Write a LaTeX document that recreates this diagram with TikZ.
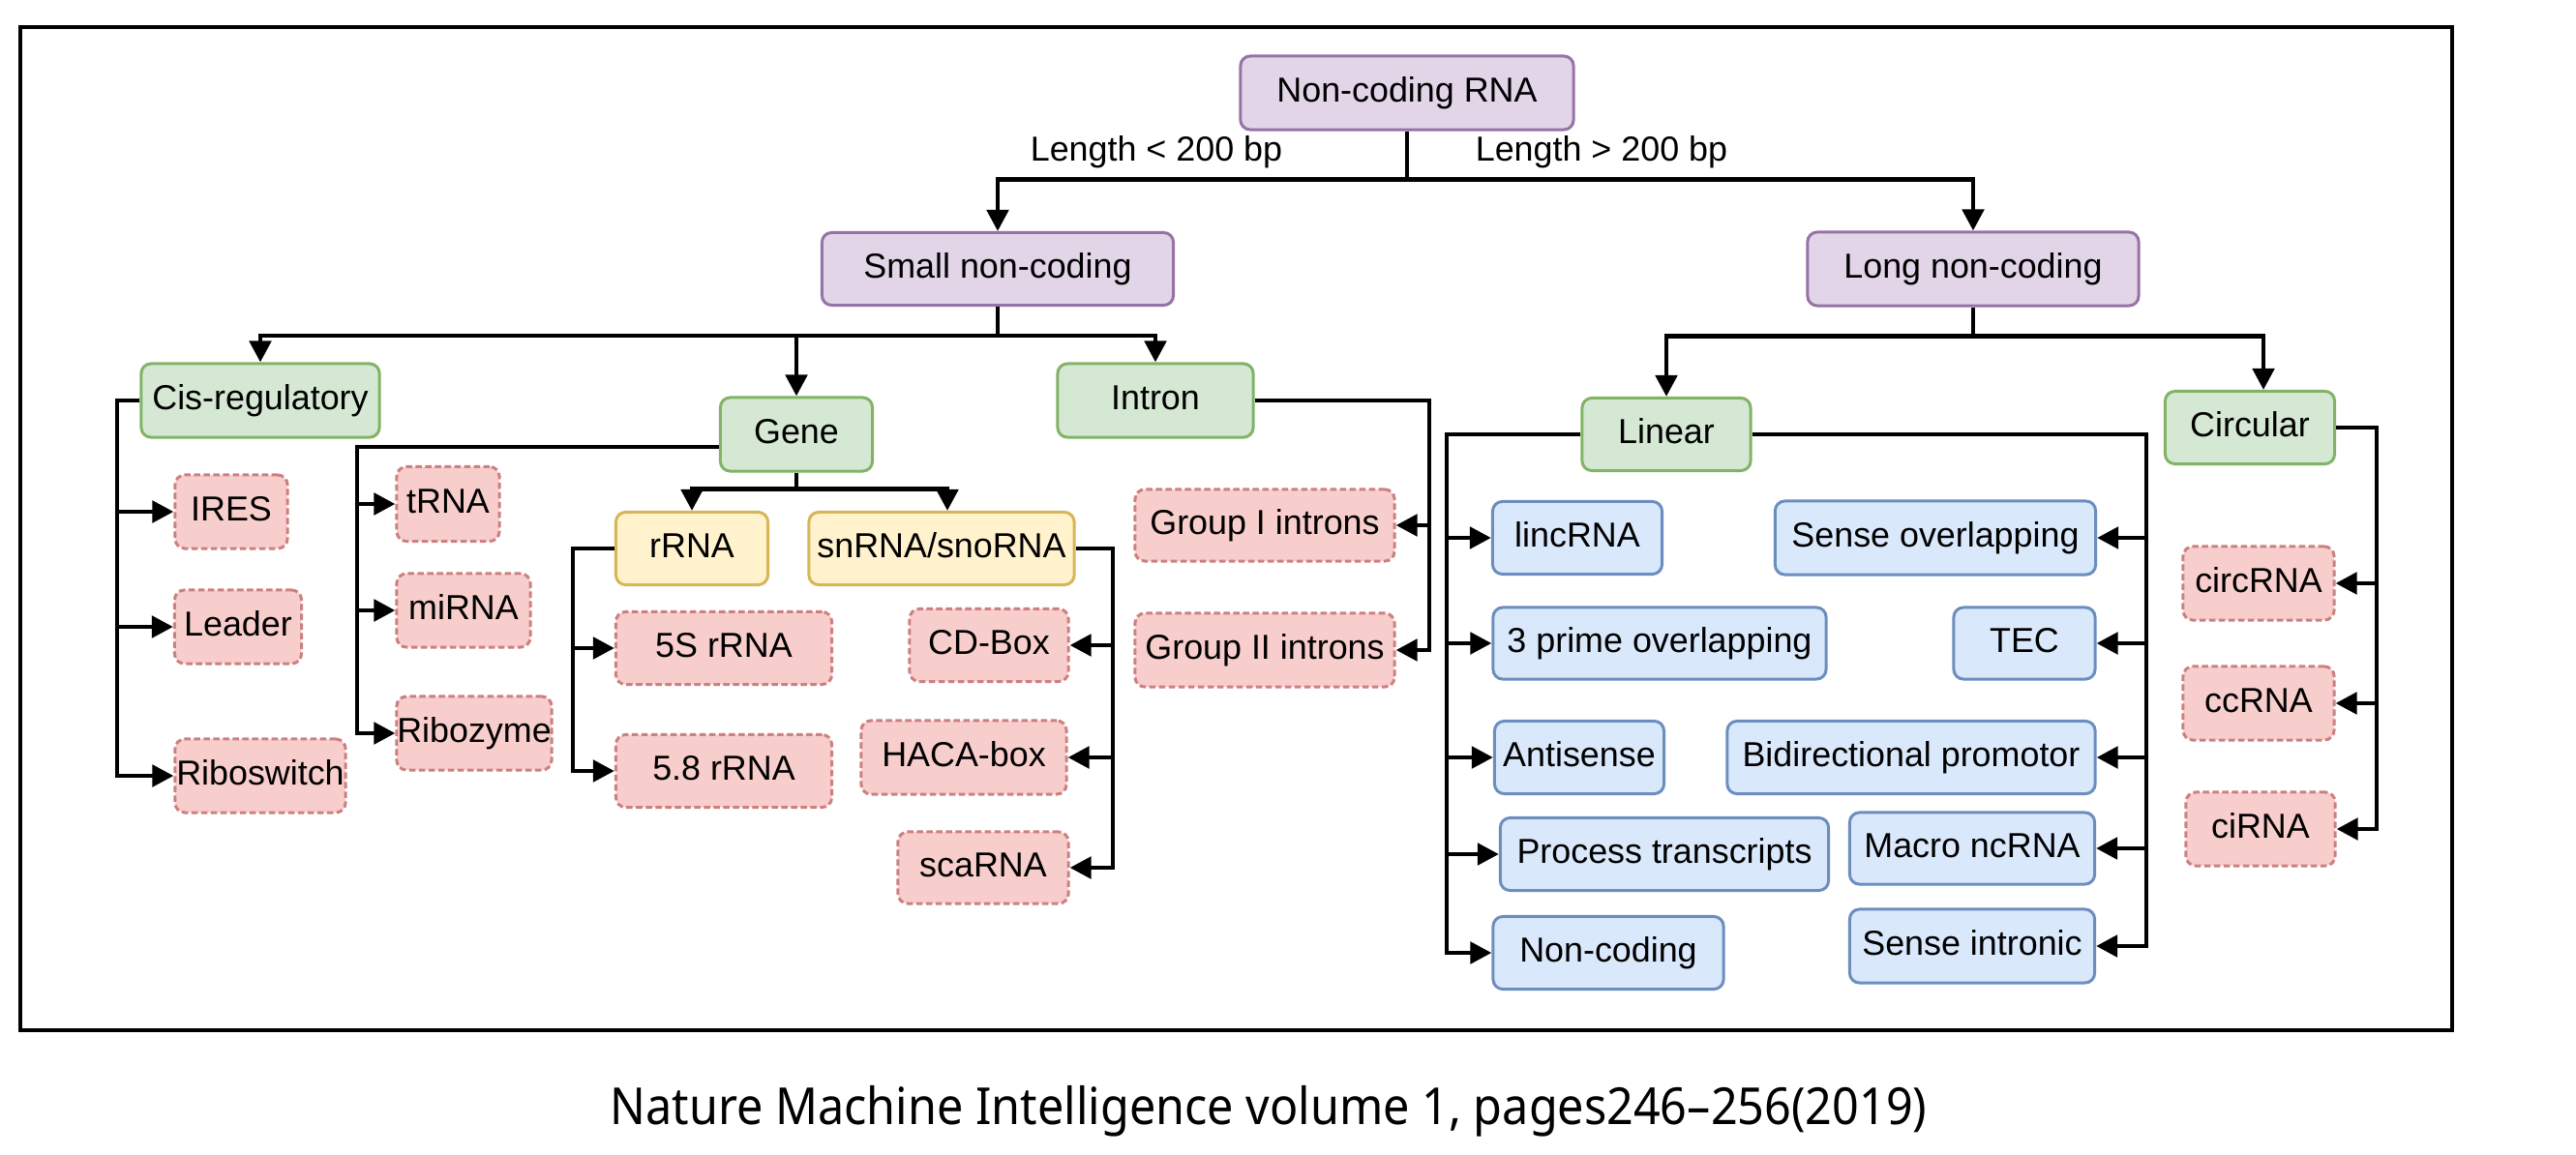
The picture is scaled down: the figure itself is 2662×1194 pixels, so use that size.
\documentclass[tikz,border=0pt]{standalone}
\usepackage{fontspec}
\setmainfont{Liberation Sans}
\newfontfamily\capfont{Noto Sans}
\usetikzlibrary{arrows.meta,calc}
\definecolor{purF}{HTML}{E1D5E7}\definecolor{purD}{HTML}{9673A6}
\definecolor{grnF}{HTML}{D5E8D4}\definecolor{grnD}{HTML}{82B366}
\definecolor{yelF}{HTML}{FFF2CC}\definecolor{yelD}{HTML}{D6B656}
\definecolor{redF}{HTML}{F8CECC}\definecolor{redD}{HTML}{CC8080}
\definecolor{bluF}{HTML}{DAE8FC}\definecolor{bluD}{HTML}{6C8EBF}
\tikzset{
  box/.style={rounded corners=0.1cm, line width=0.85pt, inner xsep=0pt, inner ysep=0pt,
    font=\fontsize{10.2}{12}\selectfont, text height=0.73em, text depth=0.2em, align=center},
  pur/.style={box, fill=purF, draw=purD},
  grn/.style={box, fill=grnF, draw=grnD},
  yel/.style={box, fill=yelF, draw=yelD},
  red/.style={box, fill=redF, draw=redD, dash pattern=on 0.065cm off 0.035cm},
  blu/.style={box, fill=bluF, draw=bluD},
  conn/.style={line width=1.4pt, line join=miter},
  arr/.style={conn, -{Triangle[length=0.22cm,width=0.22cm]}},
  lbl/.style={font=\fontsize{10.2}{12}\selectfont, inner sep=0pt},
}
\begin{document}
\begin{tikzpicture}[x=0.01cm,y=-0.01cm]
\useasboundingbox (0,0) rectangle (2662,1194);
\fill[white] (0,0) rectangle (2662,1194);
\draw[line width=0.9pt] (21,28) rectangle (2534,1065);

% level 0-1
\node[pur, minimum width=3.44cm, minimum height=0.76cm] (ncrna) at (1454,96) {Non-coding RNA};
\node[pur, minimum width=3.63cm, minimum height=0.75cm] (small) at (1031,278) {Small non-coding};
\node[pur, minimum width=3.42cm, minimum height=0.76cm] (long) at (2039,278) {Long non-coding};
% level 2
\node[grn, minimum width=2.46cm, minimum height=0.76cm] (cis) at (269,414) {Cis-regulatory};
\node[grn, minimum width=1.57cm, minimum height=0.76cm] (gene) at (823,449) {Gene};
\node[grn, minimum width=2.02cm, minimum height=0.76cm] (intron) at (1194,414) {Intron};
\node[grn, minimum width=1.74cm, minimum height=0.75cm] (linear) at (1722,449) {Linear};
\node[grn, minimum width=1.75cm, minimum height=0.75cm] (circular) at (2325,442) {Circular};
% cis children
\node[red, minimum width=1.16cm, minimum height=0.76cm] (ires) at (239,529) {IRES};
\node[red, minimum width=1.31cm, minimum height=0.76cm] (leader) at (246,648) {Leader};
\node[red, minimum width=1.76cm, minimum height=0.76cm] (riboswitch) at (269,802) {Riboswitch};
% gene children
\node[red, minimum width=1.06cm, minimum height=0.77cm] (trna) at (463,521) {tRNA};
\node[red, minimum width=1.38cm, minimum height=0.76cm] (mirna) at (479,631) {miRNA};
\node[red, minimum width=1.60cm, minimum height=0.76cm] (ribozyme) at (490,758) {Ribozyme};
\node[yel, minimum width=1.57cm, minimum height=0.75cm] (rrna) at (715,567) {rRNA};
\node[yel, minimum width=2.74cm, minimum height=0.75cm] (snrna) at (973,567) {snRNA/snoRNA};
\node[red, minimum width=2.23cm, minimum height=0.75cm] (s5) at (748,670) {5S rRNA};
\node[red, minimum width=2.23cm, minimum height=0.75cm] (s58) at (748,797) {5.8 rRNA};
\node[red, minimum width=1.64cm, minimum height=0.75cm] (cdbox) at (1022,667) {CD-Box};
\node[red, minimum width=2.12cm, minimum height=0.76cm] (haca) at (996,783) {HACA-box};
\node[red, minimum width=1.76cm, minimum height=0.74cm] (scarna) at (1016,897) {scaRNA};
% intron children
\node[red, minimum width=2.68cm, minimum height=0.74cm] (g1) at (1307,543) {Group I introns};
\node[red, minimum width=2.68cm, minimum height=0.76cm] (g2) at (1307,672) {Group II introns};
% linear children
\node[blu, minimum width=1.75cm, minimum height=0.75cm] (lincrna) at (1630,556) {lincRNA};
\node[blu, minimum width=3.44cm, minimum height=0.74cm] (three) at (1715,665) {3 prime overlapping};
\node[blu, minimum width=1.75cm, minimum height=0.75cm] (antisense) at (1632,783) {Antisense};
\node[blu, minimum width=3.39cm, minimum height=0.75cm] (process) at (1720,883) {Process transcripts};
\node[blu, minimum width=2.38cm, minimum height=0.75cm] (noncoding) at (1662,985) {Non-coding};
\node[blu, minimum width=3.31cm, minimum height=0.76cm] (senseov) at (2000,556) {Sense overlapping};
\node[blu, minimum width=1.46cm, minimum height=0.74cm] (tec) at (2092,665) {TEC};
\node[blu, minimum width=3.80cm, minimum height=0.75cm] (bidir) at (1975,783) {Bidirectional promotor};
\node[blu, minimum width=2.53cm, minimum height=0.74cm] (macro) at (2038,877) {Macro ncRNA};
\node[blu, minimum width=2.53cm, minimum height=0.76cm] (senseint) at (2038,978) {Sense intronic};
% circular children
\node[red, minimum width=1.56cm, minimum height=0.76cm] (circrna) at (2334,603) {circRNA};
\node[red, minimum width=1.56cm, minimum height=0.76cm] (ccrna) at (2334,727) {ccRNA};
\node[red, minimum width=1.54cm, minimum height=0.76cm] (cirna) at (2336,857) {ciRNA};

% labels
\node[lbl] (lshort) at (1195,157) {Length < 200 bp};
\node[lbl] (llong) at (1655,157) {Length > 200 bp};

% junction coordinates
\path (ncrna.south) ++(0,50) coordinate (j1);
\path (small.south) ++(0,30) coordinate (j2);
\path (long.south) ++(0,30) coordinate (j3);
\path (gene.south) ++(0,17) coordinate (j4);
\coordinate (cisx) at (121,0);
\coordinate (genex) at (369,0);
\coordinate (rrx) at (592,0);
\coordinate (snx) at (1150,0);
\coordinate (inx) at (1477,0);
\coordinate (lnx) at (1495,0);
\coordinate (lrx) at (2218,0);
\coordinate (crx) at (2456,0);

% top level
\draw[conn] (ncrna.south) -- (j1);
\draw[arr] (j1) -| (small.north);
\draw[arr] (j1) -| (long.north);
\draw[conn] (small.south) -- (j2);
\draw[arr] (j2) -| (cis.north);
\draw[arr] (j2) -| (gene.north);
\draw[arr] (j2) -| (intron.north);
\draw[conn] (long.south) -- (j3);
\draw[arr] (j3) -| (linear.north);
\draw[arr] (j3) -| ([xshift=0.14cm]circular.north);

% cis
\draw[arr] (cis.west) -| (cisx |- riboswitch.west) -- (riboswitch.west);
\draw[arr] (cisx |- ires.west) -- (ires.west);
\draw[arr] (cisx |- leader.west) -- (leader.west);
% gene left
\draw[arr] ([yshift=-0.13cm]gene.west) -| (genex |- ribozyme.west) -- (ribozyme.west);
\draw[arr] (genex |- trna.west) -- (trna.west);
\draw[arr] (genex |- mirna.west) -- (mirna.west);
% gene down
\draw[conn] (gene.south) -- (j4);
\draw[arr] (j4) -| (rrna.north);
\draw[arr] (j4) -| ([xshift=0.06cm]snrna.north);
% rRNA
\draw[arr] (rrna.west) -| (rrx |- s58.west) -- (s58.west);
\draw[arr] (rrx |- s5.west) -- (s5.west);
% snRNA
\draw[arr] (snrna.east) -| (snx |- scarna.east) -- (scarna.east);
\draw[arr] (snx |- cdbox.east) -- (cdbox.east);
\draw[arr] (snx |- haca.east) -- (haca.east);
% intron
\draw[arr] (intron.east) -| (inx |- g2.east) -- (g2.east);
\draw[arr] (inx |- g1.east) -- (g1.east);
% linear left
\draw[arr] (linear.west) -| (lnx |- noncoding.west) -- (noncoding.west);
\draw[arr] (lnx |- lincrna.west) -- (lincrna.west);
\draw[arr] (lnx |- three.west) -- (three.west);
\draw[arr] (lnx |- antisense.west) -- (antisense.west);
\draw[arr] (lnx |- process.west) -- (process.west);
% linear right
\draw[arr] (linear.east) -| (lrx |- senseint.east) -- (senseint.east);
\draw[arr] (lrx |- senseov.east) -- (senseov.east);
\draw[arr] (lrx |- tec.east) -- (tec.east);
\draw[arr] (lrx |- bidir.east) -- (bidir.east);
\draw[arr] (lrx |- macro.east) -- (macro.east);
% circular
\draw[arr] (circular.east) -| (crx |- cirna.east) -- (cirna.east);
\draw[arr] (crx |- circrna.east) -- (circrna.east);
\draw[arr] (crx |- ccrna.east) -- (ccrna.east);

% caption
\node[inner sep=0pt, font=\capfont\fontsize{15}{18}\selectfont] (cap) at (1311,1149) {\scalebox{0.92}[1]{Nature Machine Intelligence volume 1, pages246–256(2019)}};
\end{tikzpicture}
\end{document}
